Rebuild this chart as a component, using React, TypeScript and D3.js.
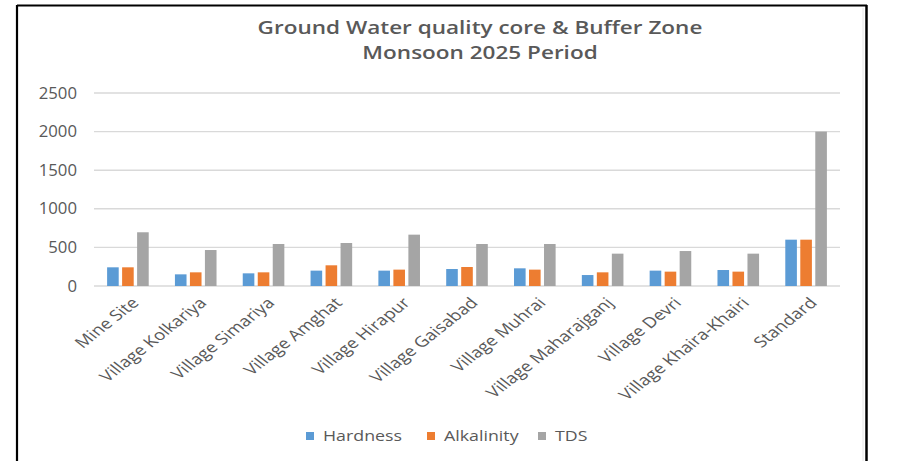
import React from "react";
import * as d3 from "d3";

const categories = [
  "Mine Site",
  "Village Kolkariya",
  "Village Simariya",
  "Village Amghat",
  "Village Hirapur",
  "Village Gaisabad",
  "Village Muhrai",
  "Village Maharajganj",
  "Village Devri",
  "Village Khaira-Khairi",
  "Standard",
];
const hardness = [242, 151, 164, 199, 199, 220, 229, 142, 199, 207, 600];
const alkalinity = [242, 177, 177, 268, 212, 246, 212, 177, 186, 186, 600];
const tds = [696, 466, 544, 557, 665, 544, 544, 419, 453, 419, 2000];
const seriesNames = ["Hardness", "Alkalinity", "TDS"];
const seriesColors = ["#5B9BD5", "#ED7D31", "#A5A5A5"];
const yTicks = [0, 500, 1000, 1500, 2000, 2500];
const titleLines = ["Ground Water quality core & Buffer Zone", "Monsoon  2025 Period"];

export default function App() {
  const W = 898, H = 461;
  const left = 94, right = 840, top = 93, bottom = 286;
  const sx = 1.27;
  const series = [hardness, alkalinity, tds];
  const x = d3.scaleBand<string>().domain(categories).range([left, right]).paddingInner(0).paddingOuter(0);
  const y = d3.scaleLinear().domain([0, 2500]).range([bottom, top]);
  const bw = 11.6, gap = 3.4;
  const groupW = bw * 3 + gap * 2;
  const txt = "#595959";
  const font = "'Open Sans', sans-serif";
  const legendX = [306, 427, 538];
  return (
    <svg width={W} height={H} style={{ position: "absolute", left: 0, top: 0, background: "#fff" }}>
      <rect x={0} y={0} width={W} height={H} fill="#fff" />
      <line x1={17} y1={5.5} x2={867} y2={5.5} stroke="#000" strokeWidth={2} />
      <line x1={17} y1={5} x2={17} y2={H} stroke="#000" strokeWidth={2.2} />
      <line x1={866.5} y1={5} x2={866.5} y2={H} stroke="#000" strokeWidth={2.5} />
      <line x1={863} y1={8} x2={863} y2={H} stroke="#e6e6e6" strokeWidth={1} />
      {titleLines.map((t, i) => (
        <text key={i} transform={`translate(480,${34 + i * 25}) scale(1.31,1)`} textAnchor="middle" fill={txt}
          fontFamily={font} fontWeight={600} fontSize={17.2}>{t}</text>
      ))}
      {yTicks.map((t) => (
        <g key={t}>
          <line x1={left} x2={right} y1={y(t)} y2={y(t)} stroke="#d9d9d9" strokeWidth={1.4} />
          <text transform={`translate(77,${y(t)}) scale(1.08,1)`} dy="0.36em" textAnchor="end" fill={txt}
            fontFamily={font} fontSize={15.5}>{t}</text>
        </g>
      ))}
      {categories.map((c, ci) => {
        const cx = (x(c) as number) + x.bandwidth() / 2;
        return (
          <g key={c}>
            {series.map((s, si) => (
              <rect key={si} x={cx - groupW / 2 + si * (bw + gap)} y={y(s[ci])} width={bw}
                height={bottom - y(s[ci])} fill={seriesColors[si]} />
            ))}
            <text transform={`translate(${cx + 2},${296}) scale(${sx},1) rotate(-45)`} textAnchor="end"
              dy="0.75em" fill={txt} fontFamily={font} fontSize={14.8}>{c}</text>
          </g>
        );
      })}
      {seriesNames.map((n, i) => (
        <g key={n}>
          <rect x={legendX[i]} y={432} width={8} height={8} fill={seriesColors[i]} />
          <text transform={`translate(${legendX[i] + 17},436) scale(${sx},1)`} dy="0.36em" fill={txt}
            fontFamily={font} fontSize={14}>{n}</text>
        </g>
      ))}
    </svg>
  );
}
